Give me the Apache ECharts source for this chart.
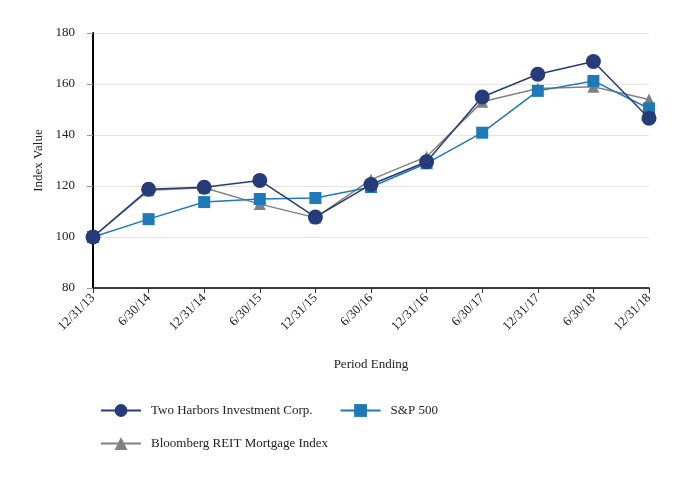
<!DOCTYPE html>
<html><head><meta charset="utf-8">
<script src="https://cdn.jsdelivr.net/npm/echarts@6/dist/echarts.min.js"></script>
<style>html,body{margin:0;padding:0;background:#fff}#c{width:682px;height:480px}</style>
</head><body><div id="c"></div>
<script>
const categories = ['12/31/13','6/30/14','12/31/14','6/30/15','12/31/15','6/30/16','12/31/16','6/30/17','12/31/17','6/30/18','12/31/18'];
const twoHarbors = [100, 118.7, 119.5, 122.2, 107.8, 120.6, 129.5, 154.9, 163.8, 168.8, 146.6];
const sp500 = [100, 107.0, 113.7, 114.9, 115.3, 119.6, 128.9, 140.9, 157.3, 161.2, 150.4];
const bloomberg = [100, 118.3, 119.3, 112.9, 107.6, 122.5, 131.5, 153.0, 158.2, 158.9, 153.9];
const yTicks = [80, 100, 120, 140, 160, 180];

const font = 'Liberation Serif';
const legendText = {fontFamily: font, fontSize: 13, color: '#222', padding: [0, 0, 0, 5]};
const chart = echarts.init(document.getElementById('c'));
chart.setOption({
  animation: false,
  textStyle: {fontFamily: font, color: '#222'},
  grid: {left: 93, right: 33, top: 33, bottom: 192},
  legend: [
    {left: 100, top: 404, padding: 0, itemWidth: 40, itemHeight: 16, itemGap: 27,
     data: ['Two Harbors Investment Corp.', 'S&P 500'], textStyle: legendText},
    {left: 100, top: 437, padding: 0, itemWidth: 40, itemHeight: 16,
     data: ['Bloomberg REIT Mortgage Index'], textStyle: legendText}
  ],
  xAxis: {
    type: 'category', data: categories, boundaryGap: false,
    name: 'Period Ending', nameLocation: 'middle', nameGap: 70,
    nameTextStyle: {fontFamily: font, fontSize: 13, color: '#222'},
    axisLine: {lineStyle: {color: '#000', width: 1.5}},
    axisTick: {alignWithLabel: true, length: 5, lineStyle: {color: '#333'}},
    axisLabel: {rotate: 45, fontFamily: font, fontSize: 13, color: '#222', margin: 8}
  },
  yAxis: {
    type: 'value', min: 80, max: 180, interval: 20,
    name: 'Index Value', nameLocation: 'middle', nameGap: 48,
    nameTextStyle: {fontFamily: font, fontSize: 13, color: '#222'},
    axisLine: {show: true, lineStyle: {color: '#000', width: 2}},
    axisTick: {show: true, length: 6, lineStyle: {color: '#999'}},
    axisLabel: {fontFamily: font, fontSize: 13, color: '#222', margin: 18,
      formatter: v => yTicks.includes(v) ? String(v) : ''},
    splitLine: {lineStyle: {color: '#e4e4e4'}}
  },
  series: [
    {name: 'Bloomberg REIT Mortgage Index', type: 'line', data: bloomberg, z: 2,
     symbol: 'triangle', symbolSize: 12,
     itemStyle: {color: '#808080'}, lineStyle: {color: '#808080', width: 1.5}},
    {name: 'S&P 500', type: 'line', data: sp500, z: 3,
     symbol: 'rect', symbolSize: 12,
     itemStyle: {color: '#1f78b8'}, lineStyle: {color: '#1f78b8', width: 1.5}},
    {name: 'Two Harbors Investment Corp.', type: 'line', data: twoHarbors, z: 4,
     symbol: 'circle', symbolSize: 15,
     itemStyle: {color: '#253b7a'}, lineStyle: {color: '#253b7a', width: 1.5}}
  ]
});
</script></body></html>
